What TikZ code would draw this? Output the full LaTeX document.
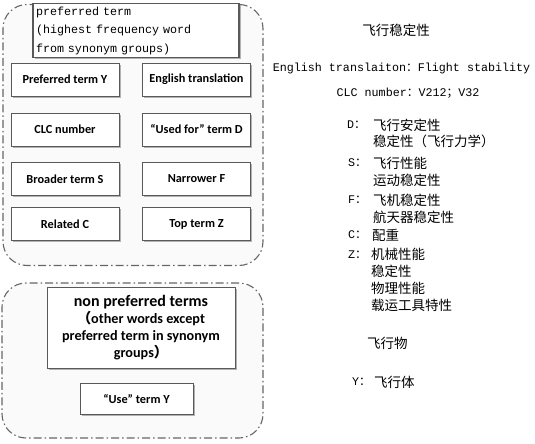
\documentclass[tikz,border=0pt]{standalone}
\usepackage{fontspec}
\setmainfont{Liberation Serif}
\newfontfamily\cjk{Noto Sans CJK SC}
\newfontfamily\monof{Liberation Mono}
\newfontfamily\boxf{Carlito}
\usetikzlibrary{shadows}

\begin{document}
\begin{tikzpicture}[x=1pt, y=-1pt]
\tikzstyle{frame} = [draw=gray!80!black, line width=1.1pt, rounded corners=24pt, fill=gray!4, inner sep=0pt,
  dash pattern=on 8pt off 3pt on 1.5pt off 3pt]
\tikzstyle{term} = [draw=gray!70!black, fill=white, line width=0.9pt, minimum width=108pt, minimum height=33pt,
  inner sep=1pt, font=\boxf\bfseries\fontsize{12.3}{14}\selectfont,
  drop shadow={shadow xshift=1.6pt, shadow yshift=-1.6pt, fill=gray!60, opacity=1}]
\tikzstyle{key} = [anchor=west, inner sep=0pt, font=\monof\fontsize{11.7}{14}\selectfont]
\tikzstyle{val} = [anchor=west, inner sep=0pt, align=left, font=\cjk\fontsize{13.5}{16.8}\selectfont]

\useasboundingbox (0,0) rectangle (535,444);

% the two groups
\node[frame, minimum width=260pt, minimum height=261pt] (prefgroup) at (133,135) {};
\node[frame, minimum width=261pt, minimum height=155pt] (nongroup) at (132.5,360.5) {};

% preferred term and its fields
\node[term, font=\monof\fontsize{11.7}{18.5}\selectfont, align=left, text width=200pt, line width=1.2pt,
  minimum height=53pt, inner sep=3pt] (pref) at (136,30.5) {preferred term\\(highest frequency word\\from synonym groups)};
\node[term] (prefy) at (65,79.5) {Preferred term Y};
\node[term] (engl) at (196.5,79.5) {English translation};
\node[term] (clc) at (65,129.5) {CLC number};
\node[term] (usedfor) at (196.5,129.5) {“Used for” term D};
\node[term] (broad) at (65,179) {Broader term S};
\node[term] (narrow) at (196.5,179) {Narrower F};
\node[term] (related) at (65,224) {Related C};
\node[term] (top) at (196.5,224) {Top term Z};

% non preferred terms
\node[term, align=center, minimum width=188pt, minimum height=81pt, font=\boxf\bfseries\fontsize{14.2}{17}\selectfont]
  (nonpref) at (141,327.5) {{\fontsize{16}{17}\selectfont non preferred terms}\\{\cjk （}other words except\\preferred term in synonym\\groups{\cjk ）}};
\node[term, minimum width=113pt, minimum height=31pt] (use) at (136.5,398.5) {“Use” term Y};

% the example entry
\node[font=\cjk\fontsize{13.5}{16}\selectfont] (entry) at (396,30) {飞行稳定性};
\node[font=\monof\fontsize{11.7}{14}\selectfont] (entryen) at (401.5,68) {English translaiton{\cjk ：}Flight stability};
\node[font=\monof\fontsize{11.7}{14}\selectfont] (entryclc) at (408,93) {CLC number{\cjk ：}V212{\cjk ；}V32};

\node[key] (dkey) at (347,125) {D{\cjk ：}};
\node[val] (dval) at (373,133.5) {飞行安定性\\稳定性（飞行力学）};
\node[key] (skey) at (348,163) {S{\cjk ：}};
\node[val] (sval) at (373,171.5) {飞行性能\\运动稳定性};
\node[key] (fkey) at (348,200) {F{\cjk ：}};
\node[val] (fval) at (373,208.5) {飞机稳定性\\航天器稳定性};
\node[key] (ckey) at (348,235) {C{\cjk ：}};
\node[val] (cval) at (372,235) {配重};
\node[key] (zkey) at (348,255) {Z{\cjk ：}};
\node[val] (zval) at (371,280) {机械性能\\稳定性\\物理性能\\载运工具特性};

\node[val] (nonval) at (367,343) {飞行物};
\node[key] (ykey) at (352,382) {Y{\cjk ：}};
\node[val] (yval) at (374,382) {飞行体};
\end{tikzpicture}
\end{document}
